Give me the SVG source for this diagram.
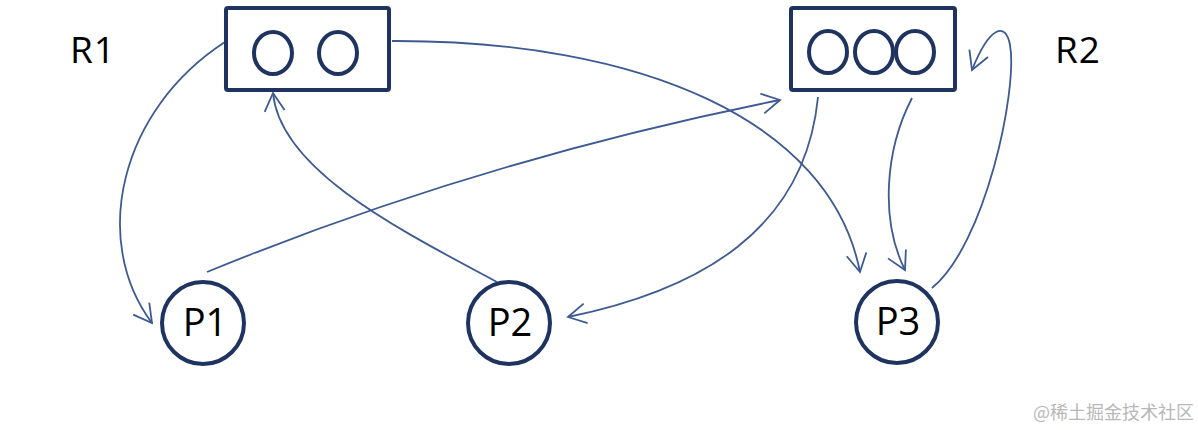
<svg xmlns="http://www.w3.org/2000/svg" width="1198" height="430" viewBox="0 0 1198 430">
<style>
  .box{fill:#fff;stroke:#1f3360;stroke-width:4}
  .slot{fill:none;stroke:#1f3360;stroke-width:4}
  .proc{fill:#fff;stroke:#1f3360;stroke-width:4}
  .lbl{font-family:"Open Sans","Noto Sans",sans-serif;fill:#000}
  .edge{fill:none;stroke:#3d5a93;stroke-width:1.8;marker-end:url(#arr)}
  .wm{font-family:"Noto Sans CJK SC",sans-serif;fill:#b8b8b8;font-size:18px}
</style>
<defs>
  <marker id="arr" markerUnits="userSpaceOnUse" markerWidth="22" markerHeight="24" viewBox="0 0 22 24" refX="20" refY="12" orient="auto">
    <path d="M2,2 L20,12 L2,22" fill="none" stroke="#3d5a93" stroke-width="1.8"/>
  </marker>
</defs>
<rect width="1198" height="430" fill="#fff"/>
<g id="connectors">
  <path class="edge" d="M225,42 C120,110 90,240 152,323"/>
  <path class="edge" d="M207,272 Q480,160 780,100"/>
  <path class="edge" d="M497,282 C400,230 280,170 273,93"/>
  <path class="edge" d="M392,41 C640,40 830,120 860,272"/>
  <path class="edge" d="M818,97 C805,230 700,290 568,317"/>
  <path class="edge" d="M912,98 C885,150 880,220 905,270"/>
  <path class="edge" d="M932,288 C985,245 1018,90 1010,45 C1006,22 990,25 972,70"/>
</g>
<g id="R1">
  <rect class="box" x="226" y="8" width="163" height="82" rx="2"/>
  <ellipse class="slot" cx="273" cy="53" rx="19" ry="21"/>
  <ellipse class="slot" cx="338" cy="53" rx="19" ry="21"/>
  <text class="lbl" x="70" y="63" font-size="37" letter-spacing="1">R1</text>
</g>
<g id="R2">
  <rect class="box" x="791" y="8" width="164" height="82" rx="2"/>
  <ellipse class="slot" cx="828" cy="52" rx="19" ry="21"/>
  <ellipse class="slot" cx="874" cy="52" rx="19" ry="21"/>
  <ellipse class="slot" cx="915" cy="52" rx="19" ry="21"/>
  <text class="lbl" x="1055" y="63" font-size="37" letter-spacing="1">R2</text>
</g>
<g id="P1">
  <circle class="proc" cx="203" cy="323" r="41"/>
  <text class="lbl" x="205" y="336" font-size="38" text-anchor="middle">P1</text>
</g>
<g id="P2">
  <circle class="proc" cx="509" cy="323" r="41"/>
  <text class="lbl" x="510" y="336" font-size="38" text-anchor="middle">P2</text>
</g>
<g id="P3">
  <circle class="proc" cx="897" cy="322" r="41"/>
  <text class="lbl" x="898" y="335" font-size="38" text-anchor="middle">P3</text>
</g>
<text class="wm" x="1033" y="419">@稀土掘金技术社区</text>
</svg>
